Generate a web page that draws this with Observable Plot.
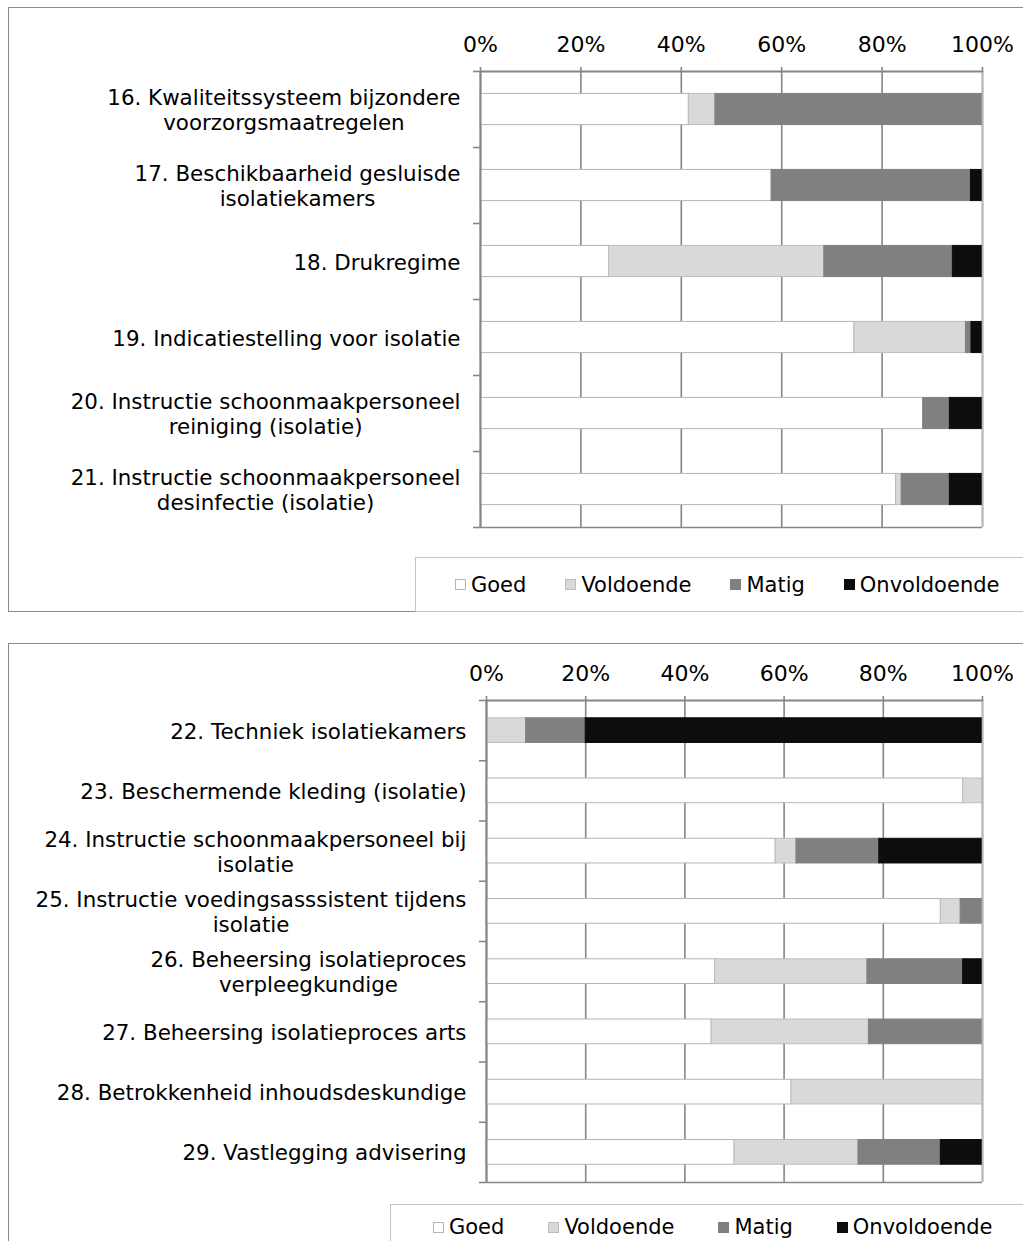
<!DOCTYPE html>
<html><head><meta charset="utf-8">
<script src="https://cdn.jsdelivr.net/npm/d3@7"></script>
<script src="https://cdn.jsdelivr.net/npm/@observablehq/plot@0.6"></script>
<style>
body{margin:0;background:#fff;font-family:"DejaVu Sans",Verdana,sans-serif;}
#page{position:relative;width:1023px;height:1241px;overflow:hidden;background:#fff;}
.panel{position:absolute;border:1.5px solid #8a8a8a;box-sizing:border-box;}
.legend{position:absolute;border:1.5px solid #c4c4c4;box-sizing:border-box;background:#fff;display:flex;align-items:center;font-size:21px;color:#000;}
.item{display:flex;align-items:center;}
.sw{width:11px;height:11px;box-sizing:border-box;margin-right:5px;}
#page svg{position:absolute;left:0;}
</style></head><body><div id="page"></div>
<script>
// ---- data ----
const ratings = ["Goed", "Voldoende", "Matig", "Onvoldoende"];
const ratingFill = ["#ffffff", "#d9d9d9", "#808080", "#0d0d0d"];
const ratingStroke = ["#b5b5b5", "#bdbdbd", "#808080", "#0d0d0d"];
const tickValues = [0, 20, 40, 60, 80, 100];

const categories1 = [
  "16. Kwaliteitssysteem bijzondere\nvoorzorgsmaatregelen",
  "17. Beschikbaarheid gesluisde\nisolatiekamers",
  "18. Drukregime",
  "19. Indicatiestelling voor isolatie",
  "20. Instructie schoonmaakpersoneel\nreiniging (isolatie)",
  "21. Instructie schoonmaakpersoneel\ndesinfectie (isolatie)"
];
const goed1        = [41.5, 58.0, 25.6, 74.5, 88.2, 82.8];
const voldoende1   = [ 5.3,  0.0, 42.9, 22.2,  0.0,  1.1];
const matig1       = [53.2, 39.7, 25.6,  1.1,  5.3,  9.6];
const onvoldoende1 = [ 0.0,  2.3,  5.9,  2.2,  6.5,  6.5];

const categories2 = [
  "22. Techniek isolatiekamers",
  "23. Beschermende kleding (isolatie)",
  "24. Instructie schoonmaakpersoneel bij\nisolatie",
  "25. Instructie voedingsasssistent tijdens\nisolatie",
  "26. Beheersing isolatieproces\nverpleegkundige",
  "27. Beheersing isolatieproces arts",
  "28. Betrokkenheid inhoudsdeskundige",
  "29. Vastlegging advisering"
];
const goed2        = [ 0.0, 96.1, 58.3, 91.6, 46.1, 45.4, 61.5, 50.0];
const voldoende2   = [ 8.0,  3.9,  4.2,  4.0, 30.7, 31.7, 38.5, 25.0];
const matig2       = [12.0,  0.0, 16.7,  4.4, 19.3, 22.9,  0.0, 16.6];
const onvoldoende2 = [80.0,  0.0, 20.8,  0.0,  3.9,  0.0,  0.0,  8.4];

// ---- build ----
const page = document.getElementById("page");
const GRID = "#868686";

function addDiv(cls, css) {
  const d = document.createElement("div");
  d.className = cls;
  Object.assign(d.style, css);
  page.appendChild(d);
  return d;
}

function chart(cats, series, o) {
  const n = cats.length;
  const rows = [];
  cats.forEach((c, i) => {
    series.forEach((vals, k) => {
      if (vals[i] > 0) rows.push({i, cat: c, rating: ratings[k], k, value: vals[i]});
    });
  });
  const pad = 0.295;
  const svg = Plot.plot({
    width: 1023,
    height: o.height,
    marginTop: o.mTop,
    marginBottom: o.mBottom,
    marginLeft: o.mLeft,
    marginRight: o.mRight,
    style: {fontFamily: "DejaVu Sans", fontSize: "20px", color: "#000", background: "transparent", overflow: "visible"},
    x: {domain: [0, 100]},
    y: {type: "linear", domain: [0, n], reverse: true},
    color: {type: "identity"},
    marks: [
      Plot.gridX(tickValues, {stroke: GRID, strokeOpacity: 1, strokeWidth: 1.6}),
      Plot.rectX(rows, Plot.stackX({
        x: "value",
        y1: d => d.i + pad,
        y2: d => d.i + 1 - pad,
        z: "rating",
        order: ratings,
        fill: d => ratingFill[d.k],
        stroke: d => ratingStroke[d.k],
        strokeWidth: 1
      })),
      Plot.ruleX([100], {stroke: "#b8b8b8", strokeWidth: 1.6}),
      Plot.ruleY([n], {stroke: GRID, strokeWidth: 1.6}),
      Plot.ruleY([0], {stroke: GRID, strokeWidth: 2}),
      Plot.ruleX([0], {stroke: GRID, strokeWidth: 2}),
      Plot.axisX({anchor: "top", ticks: tickValues, tickSize: 5, tickFormat: () => "", stroke: GRID, strokeWidth: 1.6, label: null}),
      Plot.axisY({anchor: "left", ticks: d3.range(0, n + 1), tickSize: 7, tickFormat: () => "", stroke: GRID, strokeWidth: 1.6, label: null}),
      Plot.text(tickValues, {x: d => d, frameAnchor: "top", dy: -27, text: d => d + "%", fontSize: 22, lineAnchor: "middle", fill: "#000"}),
      Plot.text(cats, {x: () => 0, y: (d, i) => i + 0.5, text: d => d, textAnchor: "end", dx: -20, fontSize: 21.4, lineHeight: 1.18, lineAnchor: "middle", fill: "#000"})
    ]
  });
  svg.style.top = o.top + "px";
  page.appendChild(svg);
  // centre the lines of wrapped labels within their right-aligned block (Excel style)
  svg.querySelectorAll('g[aria-label="text"][text-anchor="end"] text').forEach(t => {
    if (!t.querySelector("tspan")) return;
    const w = t.getBBox().width;
    t.setAttribute("text-anchor", "middle");
    const tr = t.getAttribute("transform") || "";
    t.setAttribute("transform", tr + ` translate(${-w / 2},0)`);
  });
}

function legend(css, gap) {
  const L = addDiv("legend", css);
  L.style.gap = gap + "px";
  ratings.forEach((r, k) => {
    const it = document.createElement("div");
    it.className = "item";
    const sw = document.createElement("div");
    sw.className = "sw";
    sw.style.background = ratingFill[k];
    sw.style.border = "1px solid " + ratingStroke[k];
    const tx = document.createElement("span");
    tx.textContent = r;
    it.appendChild(sw); it.appendChild(tx);
    L.appendChild(it);
  });
}

// panel 1
addDiv("panel", {left: "8px", top: "7px", width: "1040px", height: "605px"});
chart(categories1, [goed1, voldoende1, matig1, onvoldoende1],
  {top: 0, height: 540, mTop: 71, mBottom: 13, mLeft: 480, mRight: 41});
legend({left: "415px", top: "557px", width: "700px", height: "55px", paddingLeft: "39px"}, 39);

// panel 2
addDiv("panel", {left: "8px", top: "643px", width: "1040px", height: "700px"});
chart(categories2, [goed2, voldoende2, matig2, onvoldoende2],
  {top: 620, height: 580, mTop: 80, mBottom: 18, mLeft: 486, mRight: 41});
legend({left: "390px", top: "1204px", width: "700px", height: "46px", paddingLeft: "42px"}, 44);
</script>
</body></html>
